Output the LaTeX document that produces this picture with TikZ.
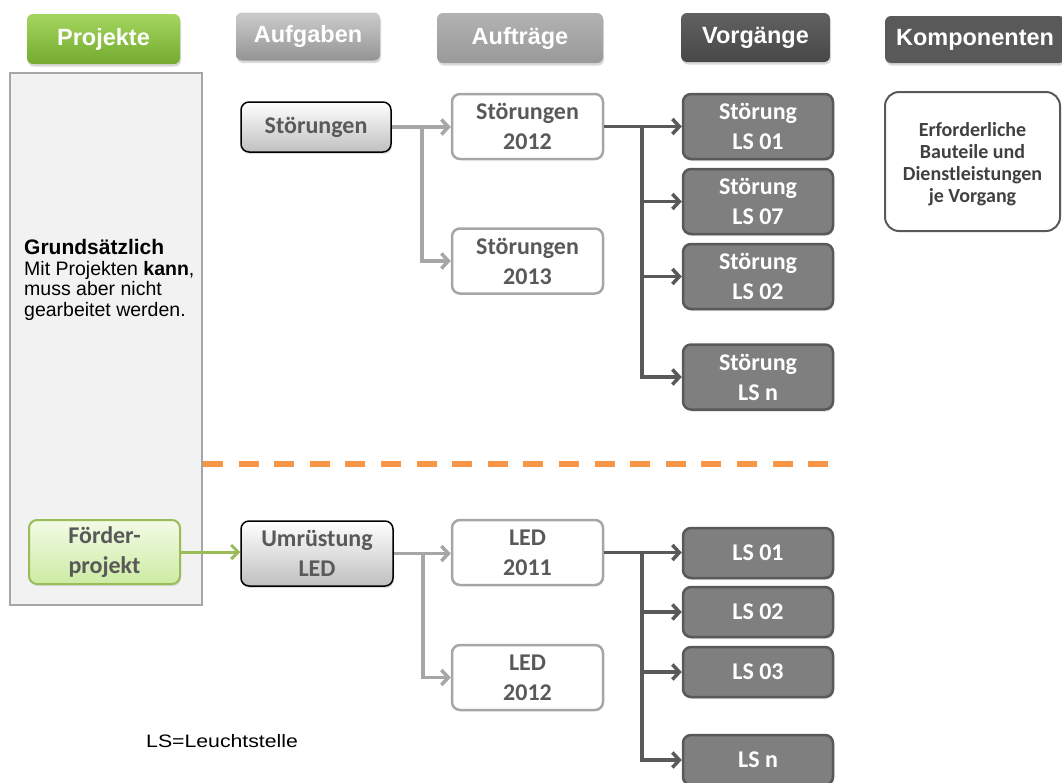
\documentclass[tikz,border=0pt]{standalone}
\usepackage{fontspec}
\setmainfont{Carlito}
\newfontfamily\arialf{Liberation Sans}
\newfontfamily\arialw{Liberation Sans}[FakeStretch=1.18]
\usetikzlibrary{arrows.meta,shadows}
\definecolor{dgray}{HTML}{595959}
\definecolor{mgray}{HTML}{7F7F7F}
\definecolor{lgray}{HTML}{A6A6A6}
\definecolor{txtgray}{HTML}{595959}
\definecolor{gline}{HTML}{9BBB59}
\definecolor{orangeln}{HTML}{F79646}
\definecolor{panelfill}{HTML}{F2F2F2}
\definecolor{gtop}{HTML}{A4D65E}
\definecolor{gbot}{HTML}{74AA30}
\definecolor{lgtop}{HTML}{F2FBE6}
\definecolor{lgbot}{HTML}{CDEBA3}
\begin{document}
\begin{tikzpicture}[x=1pt,y=-1pt,
  hdr/.style={rounded corners=6pt, inner sep=0pt, text=white,
    font=\arialf\bfseries\fontsize{23.5}{27}\selectfont,
    drop shadow={opacity=0.3, shadow xshift=1pt, shadow yshift=-2.5pt}},
  boxtxt/.style={align=center, inner sep=0pt, rounded corners=8pt,
    font=\bfseries\fontsize{24}{30}\selectfont},
  aufgbox/.style={boxtxt, draw=black, line width=1.5pt, top color=white,
    bottom color=black!25, text=txtgray, minimum width=150pt,
    drop shadow={opacity=0.25, shadow xshift=1pt, shadow yshift=-2pt}},
  auftrbox/.style={boxtxt, draw=lgray, line width=2.5pt, fill=white,
    text=txtgray, minimum width=151pt, minimum height=65pt},
  vorgbox/.style={boxtxt, draw=dgray, line width=2.5pt, fill=mgray,
    text=white, minimum width=150pt,
    drop shadow={opacity=0.25, shadow xshift=1pt, shadow yshift=-2pt}},
  lgarrow/.style={draw=lgray, line width=3.5pt,
    -{Straight Barb[length=7pt,width=15pt]}},
  dgarrow/.style={draw=dgray, line width=3.5pt,
    -{Straight Barb[length=7pt,width=15pt]}},
  grarrow/.style={draw=gline, line width=3pt,
    -{Straight Barb[length=7pt,width=14pt]}}
]
\useasboundingbox (0,0) rectangle (1062,782);

% headers
\node[hdr, top color=gtop, bottom color=gbot,
  minimum width=153pt, minimum height=50pt] (hproj) at (103.5,39) {Projekte};
\node[hdr, top color=black!20, bottom color=black!42,
  minimum width=144pt, minimum height=48pt] (haufg) at (308,36.5) {Aufgaben};
\node[hdr, top color=black!30, bottom color=black!40,
  minimum width=166pt, minimum height=50pt] (hauftr) at (520,38) {Aufträge};
\node[hdr, top color=black!62, bottom color=black!72,
  minimum width=149pt, minimum height=49pt] (hvorg) at (755.5,37.5) {Vorgänge};
\node[hdr, fill=dgray, minimum width=180pt, minimum height=47pt]
  (hkomp) at (975,39.5) {Komponenten};

% left panel
\node[draw=lgray, fill=panelfill, line width=2pt, minimum width=192pt,
  minimum height=532pt, inner sep=0pt] (panel) at (106,339) {};
\node[anchor=north west, inner sep=0pt, align=left,
  font=\arialf\fontsize{19.5}{20.5}\selectfont] (note) at (24,239.5)
  {{\bfseries\fontsize{21}{20.5}\selectfont Grundsätzlich}\\
   Mit Projekten {\bfseries kann},\\ muss aber nicht\\ gearbeitet werden.};

\node[boxtxt, draw=gline, line width=2pt, top color=lgtop,
  bottom color=lgbot, text=txtgray,
  minimum width=151pt, minimum height=64pt,
  drop shadow={opacity=0.2, shadow xshift=1pt, shadow yshift=-2pt}]
  (foerd) at (104.5,552) {Förder-\\projekt};

% Aufgaben
\node[aufgbox, minimum height=50pt] (aufS) at (316,127) {Störungen};
\node[aufgbox, minimum height=65pt, minimum width=152pt] (aufU) at (317,553.5) {Umrüstung\\LED};

% Aufträge
\node[auftrbox] (a12) at (527.5,126.5) {Störungen\\2012};
\node[auftrbox] (a13) at (527.5,261) {Störungen\\2013};
\node[auftrbox] (l11) at (527.5,552.5) {LED\\2011};
\node[auftrbox] (l12) at (527.5,677.5) {LED\\2012};

% Vorgänge
\node[vorgbox, minimum height=65pt] (v1) at (758,126.5) {Störung\\LS 01};
\node[vorgbox, minimum height=65pt] (v7) at (758,201.5) {Störung\\LS 07};
\node[vorgbox, minimum height=65pt] (v2) at (758,276.5) {Störung\\LS 02};
\node[vorgbox, minimum height=65pt] (vn) at (758,377) {Störung\\LS n};
\node[vorgbox, minimum height=50pt] (w1) at (758,553) {LS 01};
\node[vorgbox, minimum height=50pt] (w2) at (758,612) {LS 02};
\node[vorgbox, minimum height=50pt] (w3) at (758,672) {LS 03};
\node[vorgbox, minimum height=50pt] (wn) at (758,760) {LS n};

% Komponenten
\node[draw=dgray, line width=2pt, fill=white, rounded corners=14pt,
  minimum width=175pt, minimum height=139pt, inner sep=0pt]
  (komp) at (972.5,161.5) {};
\node[align=center, inner sep=0pt, text=black!75,
  font=\bfseries\fontsize{20}{22}\selectfont]
  (kompt) at (972.5,164.5) {Erforderliche\\Bauteile und\\Dienstleistungen\\je Vorgang};

% dashed separator
\draw[orangeln, line width=6pt, dash pattern=on 20pt off 15.6pt] (203,464) -- (828,464);

% legend
\node[anchor=base west, inner sep=0pt, font=\arialw\fontsize{18}{20}\selectfont]
  (legend) at (146,747) {LS=Leuchtstelle};

% connectors upper
\coordinate (j1) at (422,127);
\draw[lgarrow] (aufS.east) -- (a12.west |- aufS.east);
\draw[lgarrow] (j1) |- (a13.west);
\coordinate (j2) at (642,126.5);
\draw[dgarrow] (a12.east) -- (v1.west);
\draw[dgarrow] (j2) |- (v7.west);
\draw[dgarrow] (j2) |- (v2.west);
\draw[dgarrow] (j2) |- (vn.west);

% connectors lower
\draw[grarrow] (foerd.east) -- (aufU.west |- foerd.east);
\coordinate (j3) at (423,553);
\draw[lgarrow] (aufU.east) -- (l11.west |- aufU.east);
\draw[lgarrow] (j3) |- (l12.west);
\coordinate (j4) at (642,553);
\draw[dgarrow] (l11.east) -- (w1.west |- l11.east);
\draw[dgarrow] (j4) |- (w2.west);
\draw[dgarrow] (j4) |- (w3.west);
\draw[dgarrow] (j4) |- (wn.west);
\end{tikzpicture}
\end{document}
